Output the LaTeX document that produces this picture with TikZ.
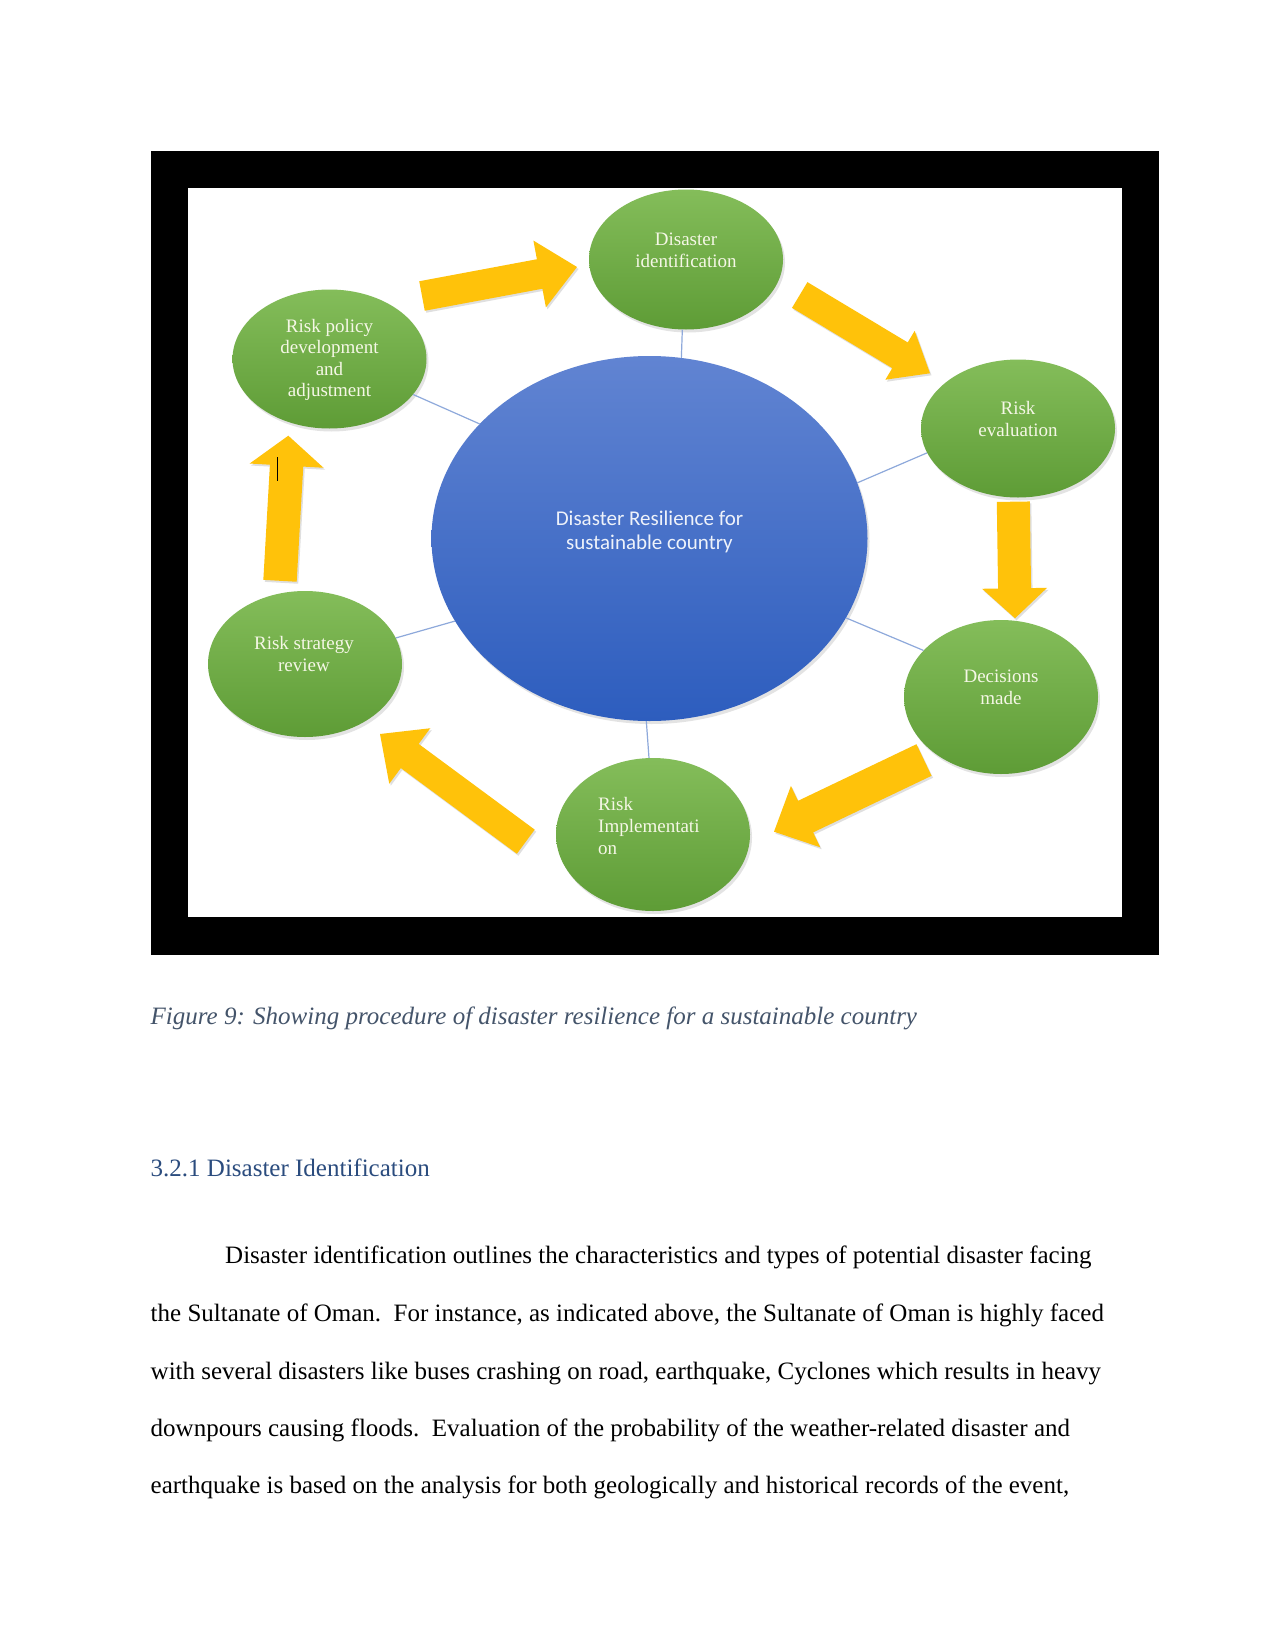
\documentclass[tikz,border=0pt]{standalone}
\usepackage{fontspec}
\setmainfont{Liberation Serif}
\newfontfamily\calibfont{Carlito}
\usetikzlibrary{shapes.geometric,shadows,calc}
\definecolor{gtop}{HTML}{84BD5A}
\definecolor{gbot}{HTML}{5E9C36}
\definecolor{btop}{HTML}{6184D2}
\definecolor{bbot}{HTML}{2D5DBE}
\definecolor{linkc}{HTML}{8EA9DB}
\definecolor{arrc}{HTML}{FFC20A}
\definecolor{captc}{HTML}{44546A}
\definecolor{headc}{HTML}{2B4C7E}
\definecolor{gtext}{HTML}{F5F7E6}
\definecolor{ctext}{HTML}{EEF2FA}
\newcommand\blockarrow[5]{%
  \coordinate (bah) at ($(#2)!#5!(#1)$);
  \fill[arrowshape] ($(#1)!#3!90:(#2)$) -- ($(bah)!#3!90:(#2)$) -- ($(bah)!#4!90:(#2)$)
    -- (#2) -- ($(bah)!#4!-90:(#2)$) -- ($(bah)!#3!-90:(#2)$) -- ($(#1)!#3!-90:(#2)$) -- cycle;
}
\begin{document}
\begin{tikzpicture}[x=1pt,y=-1pt,
  gell/.style={ellipse, minimum width=194pt, minimum height=140pt, inner sep=0pt,
    top color=gtop, bottom color=gbot, draw=none,
    drop shadow={shadow xshift=2pt, shadow yshift=-3pt, opacity=0.22}},
  hubell/.style={ellipse, minimum width=436pt, minimum height=365pt, inner sep=0pt,
    top color=btop, bottom color=bbot, draw=none,
    drop shadow={shadow xshift=2pt, shadow yshift=-3pt, opacity=0.22}},
  gtxt/.style={font=\fontsize{19}{22}\selectfont, text=gtext, align=center, anchor=base, inner sep=0pt},
  ctxt/.style={font=\calibfont\fontsize{21}{24}\selectfont, text=ctext, align=center, anchor=base, inner sep=0pt},
  link/.style={draw=linkc, line width=1.2pt},
  arrowshape/.style={fill=arrc, drop shadow={shadow xshift=1.5pt, shadow yshift=-2pt, opacity=0.25}},
  pagetxt/.style={anchor=base west, inner sep=0pt, font=\fontsize{25}{30}\selectfont}]
\fill[white] (0,0) rectangle (1275,1651);
\useasboundingbox (0,0) rectangle (1275,1651);
\fill[black] (150.5,150.5) rectangle (1159,955);
\fill[white] (188,188) rectangle (1122,917);

% nodes
\node[hubell] (hub) at (649.5,538.5) {};
\node[gell, minimum height=140pt] (ident) at (686,259.5) {};
\node[gell, minimum height=138pt] (evalu) at (1018,428.5) {};
\node[gell, minimum height=154pt] (decis) at (1001,697) {};
\node[gell, minimum height=153pt] (impl) at (653,834.5) {};
\node[gell, minimum height=146pt] (strat) at (305,664) {};
\node[gell, minimum height=139pt] (policy) at (329.5,359) {};

% connectors
\draw[link] (hub.80) -- (ident.267);
\draw[link] (hub.15) -- (evalu.195);
\draw[link] (hub.338) -- (decis.149);
\draw[link] (hub.269) -- (impl.93);
\draw[link] (hub.203) -- (strat.16);
\draw[link] (hub.146) -- (policy.337);

% texts (base anchor = baseline of the last line)
\node[ctxt] (hubT) at (649.5,549) {Disaster Resilience for\\sustainable country};
\node[gtxt] (identT) at (686,267) {Disaster\\identification};
\node[gtxt] (evaluT) at (1018,436.5) {Risk\\evaluation};
\node[gtxt] (decisT) at (1001,704) {Decisions\\made};
\node[gtxt, align=left, anchor=base west] (implT) at (598,854) {Risk\\Implementati\\on};
\node[gtxt] (stratT) at (304,671.5) {Risk strategy\\review};
\node[gtxt, font=\fontsize{19}{21.5}\selectfont] (policyT) at (329.5,396.5) {Risk policy\\development\\and\\adjustment};

% block arrows
\coordinate (a1t) at (422,296);   \coordinate (a1h) at (577,267);
\coordinate (a2t) at (799.7,295); \coordinate (a2h) at (930,373.3);
\coordinate (a3t) at (1013.3,501.7); \coordinate (a3h) at (1015,618.3);
\coordinate (a4t) at (924,760);   \coordinate (a4h) at (774,831.7);
\coordinate (a5t) at (525.8,841.7); \coordinate (a5h) at (380,734);
\coordinate (a6t) at (280,580.8); \coordinate (a6h) at (288.3,435.7);
\blockarrow{a1t}{a1h}{15pt}{34pt}{38pt}
\blockarrow{a2t}{a2h}{15pt}{28.5pt}{35pt}
\blockarrow{a3t}{a3h}{16.5pt}{32.5pt}{30pt}
\blockarrow{a4t}{a4h}{17.5pt}{34pt}{35pt}
\blockarrow{a5t}{a5h}{15pt}{34.5pt}{37pt}
\blockarrow{a6t}{a6h}{16.7pt}{37pt}{30pt}
\draw[line width=1.4pt, black] (277.7,457) -- (277.7,481);

% page text
\node[pagetxt, font=\itshape\fontsize{25}{30}\selectfont, text=captc] (caption) at (150.5,1024)
  {Figure 9: Showing procedure of disaster resilience for a sustainable country};
\node[pagetxt, text=headc] (heading) at (150.5,1176) {3.2.1 Disaster Identification};
\node[pagetxt] (l1) at (225,1263) {Disaster identification outlines the characteristics and types of potential disaster facing};
\node[pagetxt] (l2) at (150.5,1321) {the Sultanate of Oman.\ \ For instance, as indicated above, the Sultanate of Oman is highly faced};
\node[pagetxt] (l3) at (150.5,1379) {with several disasters like buses crashing on road, earthquake, Cyclones which results in heavy};
\node[pagetxt] (l4) at (150.5,1436.5) {downpours causing floods.\ \ Evaluation of the probability of the weather-related disaster and};
\node[pagetxt] (l5) at (150.5,1493.5) {earthquake is based on the analysis for both geologically and historical records of the event,};
\end{tikzpicture}
\end{document}
